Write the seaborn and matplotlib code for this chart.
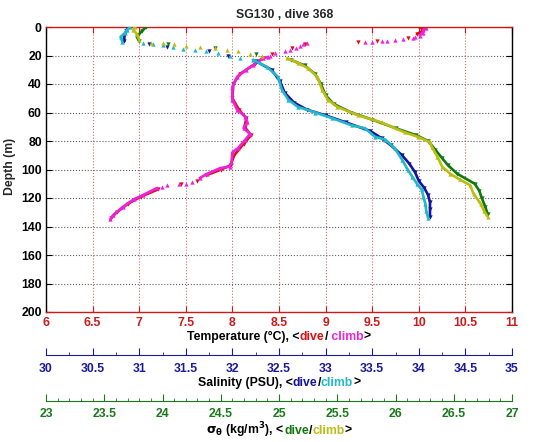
import matplotlib
matplotlib.use("Agg")
import matplotlib.pyplot as plt
import pandas as pd
import seaborn as sns

# temperature profile (degC) vs depth (m); seg groups points that form one continuous trace
temp_dive_depth = [0, 1.5, 3, 5, 8, 9.5, 10.5, 12, 15, 19, 22, 26, 33, 40, 50, 58, 64, 70, 76, 82,
                   90, 97, 100, 104, 108, 110, 114, 119, 124, 130, 134]
temp_dive = [10.0, 10.06, 10.03, 9.98, 9.88, 9.55, 9.35, 8.78, 8.64, 8.42, 8.32, 8.24, 8.08, 8.01, 8.0,
             8.07, 8.15, 8.13, 8.2, 8.12, 8.02, 7.98, 7.88, 7.72, 7.62, 7.45, 7.2, 7.02, 6.88, 6.76, 6.7]
temp_dive_seg = [0, 0, 0, 0, 1, 2, 3, 4, 5, 6, 7, 7, 7, 7, 7, 7, 7, 7, 7, 7, 7, 7, 7, 7, 8, 9,
                 10, 10, 10, 10, 10]
temp_climb_depth = [0.5, 2, 4, 6, 7.0, 7.7, 8.4, 9.1, 9.5, 9.8, 10.3, 10.5, 11.2, 12, 13, 14.5, 16, 16.5,
                    18, 20, 21, 22, 27, 30, 35, 42, 51, 58, 63, 67, 71, 75, 79, 85, 88, 95, 98, 99, 103,
                    106, 109, 110, 110.5, 111, 112, 113, 118, 121, 126, 132, 135]
temp_climb = [10.08, 10.05, 10.04, 10.01, 9.96, 9.94, 9.83, 9.74, 9.66, 9.6, 9.5, 9.42, 8.8, 8.76, 8.72,
              8.68, 8.62, 8.56, 8.46, 8.4, 8.38, 8.33, 8.22, 8.15, 8.05, 8.0, 8.0, 8.05, 8.14, 8.16, 8.12,
              8.19, 8.14, 8.06, 8.0, 7.99, 7.97, 7.87, 7.73, 7.65, 7.57, 7.5, 7.43, 7.3, 7.24, 7.19, 7.04,
              6.94, 6.83, 6.72, 6.69]
temp_climb_seg = [0, 0, 0, 0, 1, 2, 3, 4, 5, 6, 7, 8, 9, 10, 11, 12, 13, 14, 15, 16,
                  17, 17, 17, 17, 17, 17, 17, 17, 17, 17, 17, 17, 17, 17, 17, 17, 17, 17, 17, 17,
                  18, 19, 20, 21, 22, 23, 23, 23, 23, 23, 23]

# salinity (PSU)
sal_dive_depth = [0, 3, 6, 10, 12, 14, 17, 20, 24, 30, 38, 46, 53, 58, 62, 67, 73, 78, 83, 90, 96, 102,
                  108, 113, 118, 123, 128, 133]
sal_dive = [30.88, 30.86, 30.84, 30.84, 31.1, 31.3, 31.75, 31.95, 32.25, 32.42, 32.51, 32.56, 32.66, 32.8,
            33.0, 33.22, 33.48, 33.6, 33.7, 33.82, 33.9, 33.96, 34.0, 34.06, 34.1, 34.12, 34.12, 34.12]
sal_dive_seg = [0, 0, 0, 0, 1, 2, 3, 4, 5, 5, 5, 5, 5, 5, 5, 5, 5, 5, 5, 5, 5, 5, 5, 5, 5, 5, 5, 5]
sal_climb_depth = [0, 2, 4, 7, 10.5, 11, 11.8, 12.6, 14, 15.5, 16, 17, 18, 20, 21.5, 23, 28, 35, 44, 51,
                   56, 60, 64, 69, 71, 77, 79, 85, 93, 100, 105, 110, 114, 119, 124, 129, 134]
sal_climb = [30.9, 30.87, 30.85, 30.8, 30.82, 31.04, 31.15, 31.25, 31.36, 31.47, 31.6, 31.72, 31.85,
             31.97, 32.08, 32.22, 32.37, 32.49, 32.53, 32.6, 32.7, 32.89, 33.07, 33.28, 33.42, 33.53,
             33.64, 33.74, 33.82, 33.88, 33.93, 33.98, 34.03, 34.05, 34.07, 34.08, 34.1]
sal_climb_seg = [0, 0, 0, 0, 0, 1, 2, 3, 4, 5, 6, 7, 8, 9, 10, 11, 11, 11, 11, 11, 11, 11, 11, 11, 11,
                 11, 11, 11, 11, 11, 11, 11, 11, 11, 11, 11, 11]

# potential density sigma-theta (kg/m3)
sig_dive_depth = [0, 3, 7, 10, 12, 15, 19, 23, 27, 33, 40, 48, 54, 60, 65, 71, 76, 80, 86, 92, 97, 103,
                  110, 115, 120, 126, 131]
sig_dive = [23.86, 23.82, 23.78, 23.8, 24.05, 24.45, 24.8, 25.1, 25.22, 25.31, 25.36, 25.4, 25.47, 25.62,
            25.8, 26.0, 26.18, 26.28, 26.34, 26.4, 26.45, 26.53, 26.68, 26.72, 26.74, 26.77, 26.79]
sig_dive_seg = [0, 0, 0, 0, 1, 2, 3, 4, 4, 4, 4, 4, 4, 4, 4, 4, 4, 4, 4, 4, 4, 4, 4, 4, 4, 4, 4]
sig_climb_depth = [0, 2, 5, 9, 11, 11.5, 12, 13, 14, 15, 16, 17, 19, 20.5, 22, 25, 29, 35, 44, 51, 56, 62,
                   67, 74, 77, 81, 84, 91, 98, 103, 107, 111, 117, 124, 129, 133]
sig_climb = [23.76, 23.75, 23.78, 23.8, 23.9, 24.0, 24.1, 24.2, 24.32, 24.45, 24.55, 24.65, 24.75, 24.85,
             25.07, 25.16, 25.25, 25.33, 25.37, 25.42, 25.5, 25.68, 25.88, 26.08, 26.19, 26.3, 26.31,
             26.36, 26.4, 26.47, 26.55, 26.64, 26.67, 26.73, 26.76, 26.79]
sig_climb_seg = [0, 0, 0, 0, 1, 2, 3, 4, 5, 6, 7, 8, 9, 10, 11, 11, 11, 11, 11, 11, 11, 11, 11, 11, 11,
                 11, 11, 11, 11, 11, 11, 11, 11, 11, 11, 11]

depth_ticks = [0, 20, 40, 60, 80, 100, 120, 140, 160, 180, 200]
temp_ticks = [6, 6.5, 7, 7.5, 8, 8.5, 9, 9.5, 10, 10.5, 11]
temp_labels = ["6", "6.5", "7", "7.5", "8", "8.5", "9", "9.5", "10", "10.5", "11"]
sal_ticks = [30, 30.5, 31, 31.5, 32, 32.5, 33, 33.5, 34, 34.5, 35]
sal_labels = ["30", "30.5", "31", "31.5", "32", "32.5", "33", "33.5", "34", "34.5", "35"]
sig_ticks = [23, 23.5, 24, 24.5, 25, 25.5, 26, 26.5, 27]
sig_labels = ["23", "23.5", "24", "24.5", "25", "25.5", "26", "26.5", "27"]

RED, MAG = "#d81010", "#ee22dd"
BLUE, CYAN = "#14149c", "#22b8c8"
GREEN, YEL = "#0e7a0e", "#bcbc12"
T_AX, S_AX, D_AX = "#cc1a1a", "#1a1a9a", "#1a7a1a"

sns.set_style("white")
plt.rcParams["font.family"] = ["Liberation Sans", "DejaVu Sans"]
plt.rcParams["font.weight"] = "bold"
FS = 8.8

W, H = 535, 442
fig = plt.figure(figsize=(W / 100, H / 100), dpi=100)
ax = fig.add_axes([46 / W, 1 - 312 / H, 466 / W, 285 / H])


def profile(a, x, y, seg, color, marker):
    df = pd.DataFrame({"x": x, "depth": y, "seg": seg})
    sns.lineplot(data=df, x="x", y="depth", units="seg", ax=a, sort=False, estimator=None,
                 color=color, lw=1.9, marker=marker, markersize=3.1, markeredgewidth=0)
    a.set_xlabel("")
    a.set_ylabel("")


def extra_axis(offset, lo, hi, ticks, labels, minor_step, color, pad):
    a = ax.twiny()
    for s in ["top", "left", "right"]:
        a.spines[s].set_visible(False)
    a.spines["bottom"].set_position(("outward", offset))
    a.spines["bottom"].set_color(color)
    a.xaxis.set_ticks_position("bottom")
    a.xaxis.set_label_position("bottom")
    a.set_xlim(lo, hi)
    a.set_xticks(ticks, labels)
    n = int(round((hi - lo) / minor_step))
    a.set_xticks([lo + i * minor_step for i in range(n + 1)], minor=True)
    a.tick_params(axis="x", which="both", colors=color, direction="in", labelsize=FS, pad=pad)
    a.tick_params(which="major", length=5)
    a.tick_params(which="minor", length=2.5)
    return a


ax_s = extra_axis(43 * 0.72, 30, 35, sal_ticks, sal_labels, 0.25, S_AX, 6.0)
ax_d = extra_axis(89 * 0.72, 23, 27, sig_ticks, sig_labels, 0.1, D_AX, 5.0)

profile(ax, temp_dive, temp_dive_depth, temp_dive_seg, RED, "v")
profile(ax, temp_climb, temp_climb_depth, temp_climb_seg, MAG, "^")
profile(ax_s, sal_dive, sal_dive_depth, sal_dive_seg, BLUE, "v")
profile(ax_s, sal_climb, sal_climb_depth, sal_climb_seg, CYAN, "^")
profile(ax_d, sig_dive, sig_dive_depth, sig_dive_seg, GREEN, "v")
profile(ax_d, sig_climb, sig_climb_depth, sig_climb_seg, YEL, "^")
ax_s.set_xlim(30, 35)
ax_d.set_xlim(23, 27)

ax.set_xlim(6, 11)
ax.set_ylim(200, 0)
ax.set_xticks(temp_ticks, temp_labels)
ax.set_yticks(depth_ticks)
ax.xaxis.set_ticks_position("both")
ax.yaxis.set_ticks_position("both")
ax.tick_params(axis="x", colors=T_AX, direction="in", length=4, labelsize=FS, pad=3.5)
ax.tick_params(axis="y", colors="black", direction="in", length=4, labelsize=FS, pad=3)
ax.spines["top"].set_color(T_AX)
ax.spines["bottom"].set_color(T_AX)
ax.spines["left"].set_color("black")
ax.spines["right"].set_color("black")
for s in ax.spines.values():
    s.set_linewidth(1.0)
ax.grid(True, axis="x", color="#c07070", ls=":", lw=0.8)
ax.grid(True, axis="y", color="#606060", ls=":", lw=0.8)
ax.set_axisbelow(True)

fig.text(285 / W, 1 - 18 / H, "SG130 , dive 368", ha="center", va="baseline", fontsize=FS, fontweight="bold")
fig.text(10 / W, 1 - 166 / H, "Depth (m)", ha="center", va="center", rotation=90, fontsize=FS, fontweight="bold")

renderer = fig.canvas.get_renderer()


def colored_label(parts, y_px, cx=279):
    texts = [fig.text(0, 1 - y_px / H, s, color=c, fontsize=FS, fontweight="bold",
                      ha="left", va="baseline") for s, c in parts]
    widths = [t.get_window_extent(renderer).width for t in texts]
    x = cx - sum(widths) / 2
    for t, w in zip(texts, widths):
        t.set_x(x / W)
        x += w


colored_label([("Temperature (°C), <", "black"), ("dive", RED), ("/", "black"),
               (" climb", MAG), (">", "black")], 340)
colored_label([("Salinity (PSU), <", "black"), ("dive", BLUE), ("/", "black"),
               ("climb", CYAN), (">", "black")], 386)
colored_label([(r"$\mathrm{\sigma_\theta}$ (kg/m$^3$), <", "black"), ("dive", GREEN), ("/", "black"),
               ("climb", YEL), (">", "black")], 434)

fig.savefig("out.png", dpi=100)
